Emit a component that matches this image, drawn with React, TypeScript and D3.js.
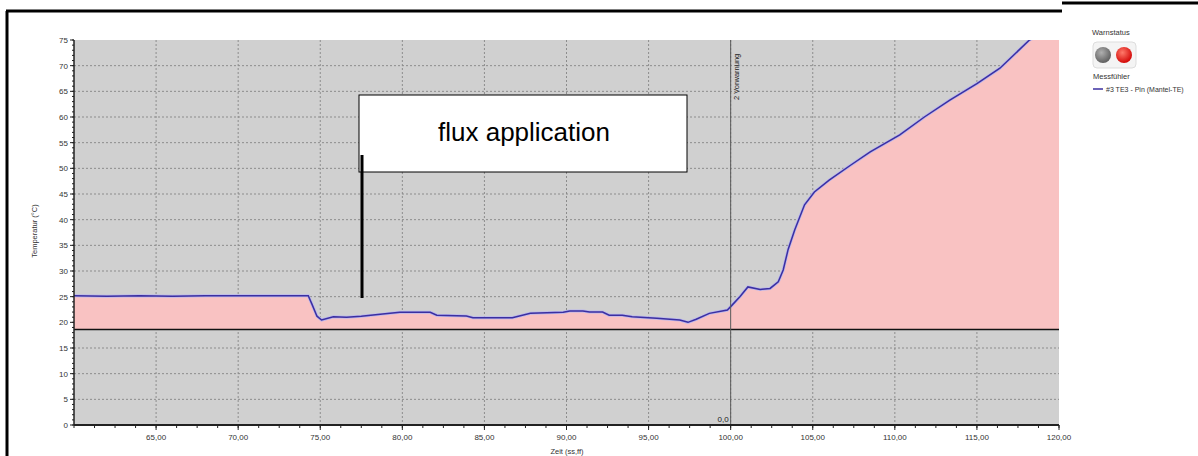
import React from "react";
import * as d3 from "d3";

const times = [60, 62, 64, 66, 68, 70, 72, 74.27, 74.5, 74.8, 75.08, 75.8, 76.6, 77.5, 78.8, 79.85, 81.7, 82.1, 83.9, 84.3, 86.7, 87.8, 89.8, 90.2, 91.0, 91.4, 92.2, 92.6, 93.4, 94.0, 95.5, 96.9, 97.4, 97.9, 98.7, 99.8, 100.1, 100.56, 101.05, 101.8, 102.4, 102.9, 103.2, 103.5, 103.9, 104.5, 105.1, 106.0, 107.3, 108.5, 110.3, 111.8, 113.35, 115.0, 116.4, 118.2, 120];
const temps = [25.2, 25.1, 25.2, 25.1, 25.2, 25.2, 25.2, 25.2, 23.5, 21.2, 20.45, 21.1, 21.0, 21.2, 21.6, 21.95, 21.95, 21.4, 21.25, 20.9, 20.9, 21.75, 21.95, 22.2, 22.2, 22.0, 22.0, 21.4, 21.4, 21.1, 20.8, 20.45, 20.0, 20.6, 21.75, 22.4, 23.4, 25.0, 26.9, 26.4, 26.6, 27.9, 30.2, 34.2, 38.0, 42.9, 45.4, 47.7, 50.6, 53.2, 56.5, 60, 63.3, 66.5, 69.5, 75, 78];

const xTicks = [65, 70, 75, 80, 85, 90, 95, 100, 105, 110, 115, 120];
const yTicks = [0, 5, 10, 15, 20, 25, 30, 35, 40, 45, 50, 55, 60, 65, 70, 75];
const baselineValue = 18.6;
const markerTime = 100;
const markerLabel = "2 Vorwarnung";
const annotationText = "flux application";
const xTitle = "Zeit (ss,ff)";
const yTitle = "Temperatur (°C)";
const legendTitle1 = "Warnstatus";
const legendTitle2 = "Messfühler";
const seriesName = "#3 TE3 - Pin (Mantel-TE)";

const W = 1198, H = 456;
const L = 74, R = 1059, T = 40, B = 425;

export default function App() {
  const x = d3.scaleLinear().domain([60, 120]).range([L, R]);
  const y = d3.scaleLinear().domain([0, 75]).range([B, T]);
  const data = times.map((t, i) => ({ t, v: temps[i] }));
  const line = d3.line<any>().x(d => x(d.t)).y(d => y(d.v));
  const area = d3.area<any>().x(d => x(d.t)).y0(y(baselineValue)).y1(d => y(d.v));
  const fmt = (v: number) => d3.format(".2f")(v).replace(".", ",");
  const minorX = d3.range(60, 120.001, 1.25);
  const minorY = d3.range(0, 75.001, 1);
  const font = "Arial, 'Liberation Sans', sans-serif";

  return (
    <svg width={W} height={H} style={{ position: "fixed", left: 0, top: 0, background: "#fff" }} fontFamily={font}>
      <defs>
        <clipPath id="plotClip"><rect x={L} y={T} width={R - L} height={B - T} /></clipPath>
        <radialGradient id="gGray" cx="0.4" cy="0.35" r="0.7">
          <stop offset="0" stopColor="#b0b0b0" />
          <stop offset="1" stopColor="#5a5a5a" />
        </radialGradient>
        <radialGradient id="gRed" cx="0.4" cy="0.35" r="0.7">
          <stop offset="0" stopColor="#ff7a6a" />
          <stop offset="1" stopColor="#d00000" />
        </radialGradient>
      </defs>
      {/* frame */}
      <line x1={7} y1={456} x2={7} y2={11} stroke="#000" strokeWidth={3} />
      <line x1={6} y1={11} x2={1062} y2={11} stroke="#000" strokeWidth={3} />
      <line x1={1062} y1={3} x2={1198} y2={3} stroke="#000" strokeWidth={3} />

      {/* plot background */}
      <rect x={L} y={T} width={R - L} height={B - T} fill="#d0d0d0" />
      {/* grid */}
      {yTicks.filter(v => v > 0 && v < 75).map(v => (
        <line key={"gy" + v} x1={L} x2={R} y1={y(v)} y2={y(v)} stroke="#8c8c8c" strokeWidth={1} strokeDasharray="2,2" />
      ))}
      {xTicks.filter(v => v < 120).map(v => (
        <line key={"gx" + v} x1={x(v)} x2={x(v)} y1={T} y2={B} stroke="#8c8c8c" strokeWidth={1} strokeDasharray="2,2" />
      ))}
      {/* fill and line */}
      <g clipPath="url(#plotClip)">
        <path d={area(data) || ""} fill="#f9c2c2" />
        <path d={line(data) || ""} fill="none" stroke="#b9b6ee" strokeWidth={3} />
        <path d={line(data) || ""} fill="none" stroke="#3b2fa0" strokeWidth={1.5} />
      </g>
      {/* baseline */}
      <line x1={L} x2={R} y1={y(baselineValue)} y2={y(baselineValue)} stroke="#111" strokeWidth={1.5} />
      {/* marker */}
      <line x1={x(markerTime)} x2={x(markerTime)} y1={T} y2={B} stroke="#5a5a5a" strokeWidth={1} />
      <text transform={`translate(${x(markerTime) + 8},${100}) rotate(-90)`} fontSize={7.5} fill="#222">{markerLabel}</text>
      <text x={x(markerTime) - 2} y={422} fontSize={8} textAnchor="end" fill="#222">0,0</text>

      {/* axes */}
      <line x1={L} x2={R} y1={B} y2={B} stroke="#222" strokeWidth={2} />
      <line x1={L} x2={L} y1={T} y2={B} stroke="#222" strokeWidth={1.5} />
      {minorX.map(v => (
        <line key={"mx" + v} x1={x(v)} x2={x(v)} y1={B} y2={B + 3} stroke="#222" strokeWidth={1} />
      ))}
      {xTicks.map(v => (
        <g key={"xt" + v}>
          <line x1={x(v)} x2={x(v)} y1={B} y2={B + 5} stroke="#222" strokeWidth={1} />
          <text x={x(v)} y={440} fontSize={8} textAnchor="middle" fill="#333">{fmt(v)}</text>
        </g>
      ))}
      {minorY.map(v => (
        <line key={"my" + v} x1={L - 2} x2={L} y1={y(v)} y2={y(v)} stroke="#222" strokeWidth={1} />
      ))}
      {yTicks.map(v => (
        <g key={"yt" + v}>
          <line x1={L - 4} x2={L} y1={y(v)} y2={y(v)} stroke="#222" strokeWidth={1} />
          <text x={L - 6} y={y(v) + 3} fontSize={8} textAnchor="end" fill="#333">{v}</text>
        </g>
      ))}
      <text x={567} y={454} fontSize={7.5} textAnchor="middle" fill="#333">{xTitle}</text>
      <text transform={`translate(37,231) rotate(-90)`} fontSize={7.5} textAnchor="middle" fill="#333">{yTitle}</text>

      {/* annotation */}
      <rect x={359} y={95} width={328} height={77} fill="#fff" stroke="#000" strokeWidth={1} />
      <text x={524} y={141} fontSize={26} textAnchor="middle" fill="#000">{annotationText}</text>
      <line x1={362} x2={362} y1={155} y2={298} stroke="#000" strokeWidth={3} />

      {/* legend */}
      <text x={1092} y={35} fontSize={7.5} fill="#333">{legendTitle1}</text>
      <rect x={1093} y={42} width={43} height={26} rx={4} fill="#f4f4f4" stroke="#ddd" />
      <circle cx={1103} cy={55} r={8} fill="url(#gGray)" />
      <circle cx={1124} cy={55} r={8} fill="url(#gRed)" />
      <text x={1093} y={79} fontSize={7.5} fill="#333">{legendTitle2}</text>
      <line x1={1093} x2={1103} y1={89} y2={89} stroke="#3b2fa0" strokeWidth={1.5} />
      <text x={1106} y={91.5} fontSize={7} fill="#333">{seriesName}</text>
    </svg>
  );
}
